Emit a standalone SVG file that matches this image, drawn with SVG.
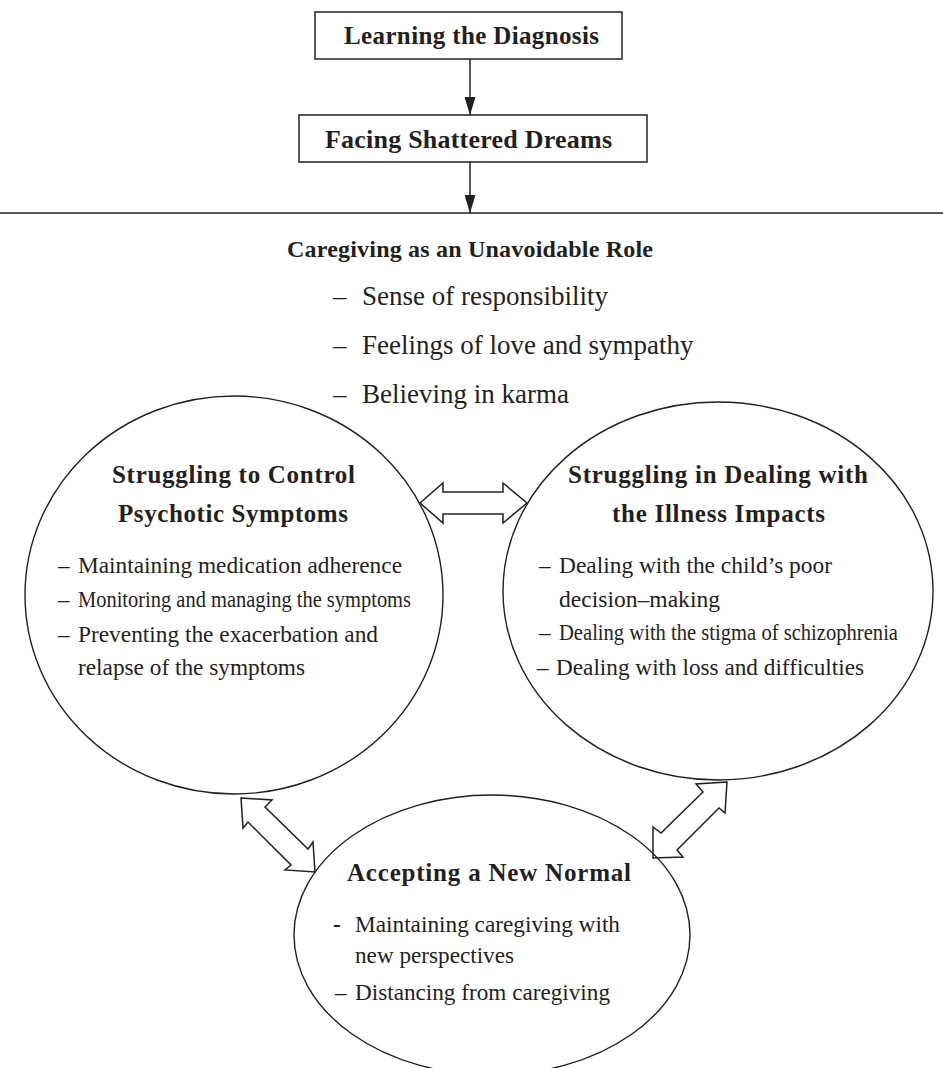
<svg xmlns="http://www.w3.org/2000/svg" width="943" height="1068" viewBox="0 0 943 1068">
  <defs>
    <style>
      .box { fill: #fff; stroke: #231f20; stroke-width: 1.5; }
      .oval { fill: none; stroke: #231f20; stroke-width: 1.4; }
      .dbl { fill: #fff; stroke: #231f20; stroke-width: 1.5; stroke-linejoin: miter; }
      .line { stroke: #231f20; stroke-width: 1.5; fill: none; }
      .title { font-family: "Liberation Serif", "Times New Roman", serif; font-weight: bold; fill: #231f20; }
      .item { font-family: "Liberation Serif", "Times New Roman", serif; fill: #231f20; }
    </style>
    <marker id="head" viewBox="0 0 18 11" refX="18" refY="5.5" markerWidth="18" markerHeight="11" markerUnits="userSpaceOnUse" orient="auto">
      <path d="M0,0 L18,5.5 L0,11 z" fill="#231f20"/>
    </marker>
  </defs>
  <rect width="943" height="1068" fill="#fff"/>

  <!-- connectors -->
  <g id="connectors">
    <line class="line" x1="470" y1="59" x2="470" y2="115" marker-end="url(#head)"/>
    <line class="line" x1="470" y1="162" x2="470" y2="213" marker-end="url(#head)"/>
    <line class="line" x1="0" y1="213" x2="943" y2="213"/>
    <!-- two-way arrows between the three phases -->
    <polygon class="dbl" points="420,503 443,483 443,492 503,492 503,483 527,503 503,523 503,514 443,514 443,523"/>
    <polygon class="dbl" points="241,798 272,800 265,807 308,849 313,842 315,872 285,870 291,865 248,822 243,828"/>
    <polygon class="dbl" points="727,782 696,784 703,792 661,833 653,827 653,858 683,857 677,850 719,808 725,813"/>
  </g>

  <g id="learning">
    <rect class="box" x="315" y="12" width="307" height="47"/>
    <text class="title" x="344" y="44" font-size="25" textLength="255" lengthAdjust="spacing">Learning the Diagnosis</text>
  </g>

  <g id="facing">
    <rect class="box" x="299" y="115" width="348" height="47"/>
    <text class="title" x="325" y="148" font-size="26" textLength="287" lengthAdjust="spacing">Facing Shattered Dreams</text>
  </g>

  <g id="caregiving">
    <text class="title" x="287" y="257" font-size="24" textLength="366" lengthAdjust="spacing">Caregiving as an Unavoidable Role</text>
    <text class="item" x="333" y="305" font-size="27">–</text>
    <text class="item" x="362" y="305" font-size="27">Sense of responsibility</text>
    <text class="item" x="333" y="354" font-size="27">–</text>
    <text class="item" x="362" y="354" font-size="27">Feelings of love and sympathy</text>
    <text class="item" x="333" y="403" font-size="27">–</text>
    <text class="item" x="362" y="403" font-size="27">Believing in karma</text>
  </g>

  <g id="symptoms">
    <ellipse class="oval" cx="234" cy="595" rx="209" ry="199"/>
    <text class="title" x="112" y="483" font-size="25" textLength="243" lengthAdjust="spacing">Struggling to Control</text>
    <text class="title" x="118" y="522" font-size="25" textLength="230" lengthAdjust="spacing">Psychotic Symptoms</text>
    <text class="item" x="58" y="573" font-size="23">–</text>
    <text class="item" x="78" y="573" font-size="23" textLength="324" lengthAdjust="spacingAndGlyphs">Maintaining medication adherence</text>
    <text class="item" x="58" y="607" font-size="23">–</text>
    <text class="item" x="78" y="607" font-size="23" textLength="333" lengthAdjust="spacingAndGlyphs">Monitoring and managing the symptoms</text>
    <text class="item" x="58" y="642" font-size="23">–</text>
    <text class="item" x="78" y="642" font-size="23" textLength="300" lengthAdjust="spacingAndGlyphs">Preventing the exacerbation and</text>
    <text class="item" x="78" y="675" font-size="23" textLength="227" lengthAdjust="spacingAndGlyphs">relapse of the symptoms</text>
  </g>

  <g id="impacts">
    <ellipse class="oval" cx="718" cy="591" rx="215" ry="189"/>
    <text class="title" x="568" y="483" font-size="25" textLength="300" lengthAdjust="spacing">Struggling in Dealing with</text>
    <text class="title" x="612" y="522" font-size="25" textLength="213" lengthAdjust="spacing">the Illness Impacts</text>
    <text class="item" x="539" y="573" font-size="23">–</text>
    <text class="item" x="559" y="573" font-size="23" textLength="273" lengthAdjust="spacingAndGlyphs">Dealing with the child’s poor</text>
    <text class="item" x="559" y="607" font-size="23" textLength="161" lengthAdjust="spacingAndGlyphs">decision–making</text>
    <text class="item" x="539" y="640" font-size="23">–</text>
    <text class="item" x="559" y="640" font-size="23" textLength="339" lengthAdjust="spacingAndGlyphs">Dealing with the stigma of schizophrenia</text>
    <text class="item" x="537" y="675" font-size="23">–</text>
    <text class="item" x="556" y="675" font-size="23" textLength="308" lengthAdjust="spacingAndGlyphs">Dealing with loss and difficulties</text>
  </g>

  <g id="new-normal">
    <ellipse class="oval" cx="492" cy="935" rx="198" ry="140"/>
    <text class="title" x="347" y="881" font-size="25" textLength="284" lengthAdjust="spacing">Accepting a New Normal</text>
    <text class="item" x="333" y="932" font-size="23" font-weight="bold">-</text>
    <text class="item" x="355" y="932" font-size="23" textLength="265" lengthAdjust="spacingAndGlyphs">Maintaining caregiving with</text>
    <text class="item" x="355" y="963" font-size="23" textLength="159" lengthAdjust="spacingAndGlyphs">new perspectives</text>
    <text class="item" x="335" y="1000" font-size="23">–</text>
    <text class="item" x="355" y="1000" font-size="23" textLength="255" lengthAdjust="spacingAndGlyphs">Distancing from caregiving</text>
  </g>
</svg>
